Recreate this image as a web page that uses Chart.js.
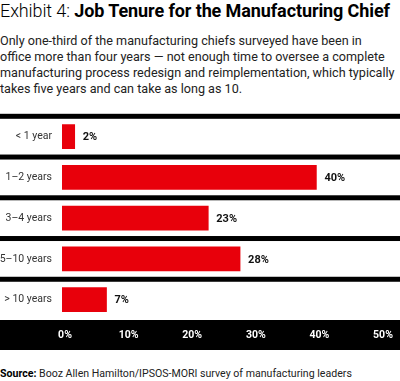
<!DOCTYPE html>
<html>
<head>
<meta charset="utf-8">
<script src="https://cdn.jsdelivr.net/npm/chart.js@4.4.0/dist/chart.umd.min.js"></script>
<style>
  html, body { margin: 0; padding: 0; background: #fff; }
  body { width: 400px; height: 381px; position: relative; overflow: hidden; font-family: Roboto, "DejaVu Sans", sans-serif; color: #222; }
  .title { position: absolute; left: 0; top: 0px; font-size: 18px; white-space: nowrap; color: #000; letter-spacing: -0.1px; }
  .title .lite { font-weight: 300; }
  .title b { font-weight: 700; }
  .sub { position: absolute; left: 0; top: 33px; font-size: 12.6px; line-height: 16px; color: #222; white-space: nowrap; }
  .box { position: absolute; left: 0; top: 100px; width: 400px; height: 252px; }
  .source { position: absolute; left: 0; top: 367px; font-size: 10.6px; color: #222; white-space: nowrap; }
  .source b { color: #000; }
</style>
</head>
<body>

<div class="title"><span class="lite">Exhibit 4:</span> <b>Job Tenure for the Manufacturing Chief</b></div>
<div class="sub">Only one-third of the manufacturing chiefs surveyed have been in<br>office more than four years — not enough time to oversee a complete<br>manufacturing process redesign and reimplementation, which typically<br>takes five years and can take as long as 10.</div>

<div class="box"><canvas id="tenureChart"></canvas></div>

<div class="source"><b>Source:</b> Booz Allen Hamilton/IPSOS-MORI survey of manufacturing leaders</div>

<script>

/* =========================
   DATA
========================= */

const categories = ["< 1 year", "1–2 years", "3–4 years", "5–10 years", "> 10 years"];
const shares = [2, 40, 23, 28, 7];
const tickValues = [0, 10, 20, 30, 40, 50];

/* =========================
   PLUGINS
========================= */

// black band behind the x axis labels + full width row separators
const axisBand = {
    id: "axisBand",
    beforeDraw(chart){
        const ctx = chart.ctx;
        const area = chart.chartArea;
        const yScale = chart.scales.y;
        const step = (area.bottom - area.top) / categories.length;
        ctx.save();
        ctx.fillStyle = "#000";
        ctx.fillRect(0, area.bottom, chart.width, 30);
        for (let i = 0; i < categories.length; i++) {
            const y = yScale.getPixelForValue(i) - step / 2;
            ctx.fillRect(0, y - 2.5, chart.width, 5);
        }
        ctx.restore();
    }
};

// bold value labels at the end of each bar
const valueLabels = {
    id: "valueLabels",
    afterDatasetsDraw(chart){
        const ctx = chart.ctx;
        const meta = chart.getDatasetMeta(0);
        ctx.save();
        ctx.font = "bold 11px Roboto, 'DejaVu Sans', sans-serif";
        ctx.fillStyle = "#111";
        ctx.textAlign = "left";
        ctx.textBaseline = "middle";
        meta.data.forEach((bar, i) => {
            ctx.fillText(shares[i] + "%", bar.x + 8, bar.y + 1);
        });
        ctx.restore();
    }
};

/* =========================
   CHART
========================= */

document.addEventListener("DOMContentLoaded", () => {

    const ctx = document.getElementById("tenureChart");

    new Chart(ctx, {

        type: "bar",

        data: {
            labels: categories,
            datasets: [{
                data: shares,
                backgroundColor: "#e8000b",
                borderWidth: 0,
                barThickness: 24
            }]
        },

        options: {

            indexAxis: "y",
            responsive: true,
            maintainAspectRatio: false,
            animation: false,

            layout: {
                padding: { top: 7, right: 20, bottom: 2, left: 0 }
            },

            plugins: {
                legend: { display: false },
                tooltip: { enabled: false }
            },

            scales: {

                x: {
                    min: 0,
                    max: 50,
                    afterFit: s => { s.height = 30; },
                    afterBuildTicks: s => { s.ticks = tickValues.map(v => ({ value: v })); },
                    grid: { display: false, drawTicks: false },
                    border: { display: false },
                    ticks: {
                        color: "#fff",
                        padding: 9,
                        labelOffset: 3,
                        font: { family: "Roboto, 'DejaVu Sans', sans-serif", size: 10.5, weight: "bold" },
                        callback: v => v + "%"
                    }
                },

                y: {
                    afterFit: s => { s.width = 62; },
                    grid: { display: false, drawTicks: false },
                    border: { display: false },
                    ticks: {
                        color: "#333",
                        padding: 10,
                        font: { family: "Roboto, 'DejaVu Sans', sans-serif", size: 10.5 }
                    }
                }

            }

        },

        plugins: [axisBand, valueLabels]

    });

});
</script>
</body>
</html>
